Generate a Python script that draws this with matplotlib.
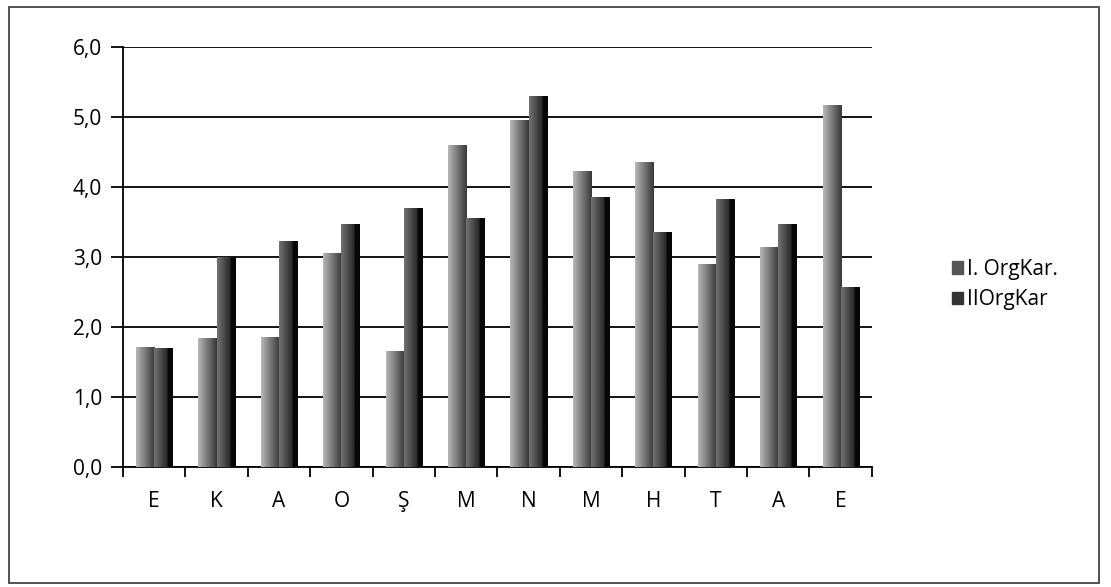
import numpy as np
import matplotlib
matplotlib.use("Agg")
import matplotlib.pyplot as plt
from matplotlib.patches import Rectangle

# monthly values
months = ["E", "K", "A", "O", "Ş", "M", "N", "M", "H", "T", "A", "E"]
org1 = [1.72, 1.84, 1.86, 3.05, 1.66, 4.60, 4.96, 4.23, 4.35, 2.90, 3.14, 5.17]
org2 = [1.70, 3.00, 3.22, 3.47, 3.70, 3.55, 5.29, 3.86, 3.36, 3.83, 3.47, 2.57]
labels = ["I. OrgKar.", "IIOrgKar"]
yticks = [0, 1, 2, 3, 4, 5, 6]

plt.rcParams["font.family"] = ["Open Sans", "DejaVu Sans"]

fig = plt.figure(figsize=(11.11, 5.87), dpi=100)
ax = fig.add_axes([0.1107, 0.2044, 0.674, 0.716])

x = np.arange(len(months))
w = 0.29

# horizontal gray gradients imitating the shaded bars
grad1 = np.linspace(0.72, 0.22, 64).reshape(1, -1)
grad2 = np.concatenate([np.linspace(0.45, 0.15, 46), np.full(18, 0.03)]).reshape(1, -1)


def shaded_bars(xs, vals, grad):
    bars = ax.bar(xs, vals, w, color="none", edgecolor="none", zorder=3)
    for b in bars:
        x0, y0 = b.get_x(), b.get_y()
        im = ax.imshow(grad, cmap="gray", vmin=0, vmax=1, aspect="auto",
                       extent=[x0, x0 + b.get_width(), y0, y0 + b.get_height()],
                       zorder=3, interpolation="bilinear")
        im.set_clip_path(b)
    return bars


shaded_bars(x - w / 2, org1, grad1)
shaded_bars(x + w / 2, org2, grad2)

ax.set_xlim(-0.5, len(months) - 0.5)
ax.set_ylim(0, 6)
ax.set_yticks(yticks)
ax.set_yticklabels([f"{v:.1f}".replace(".", ",") for v in yticks], fontsize=15)
ax.yaxis.grid(True, color="black", linewidth=1.3)
ax.set_axisbelow(True)

ax.set_xticks(x)
ax.set_xticklabels(months, fontsize=15)
ax.tick_params(axis="x", length=0, pad=17)
ax.set_xticks(np.arange(len(months) + 1) - 0.5, minor=True)
ax.tick_params(axis="x", which="minor", length=7, width=1.3, direction="out")
ax.tick_params(axis="y", length=9, width=1.3, pad=6)

for s in ["top", "right"]:
    ax.spines[s].set_visible(False)
ax.spines["left"].set_linewidth(1.3)
ax.spines["bottom"].set_linewidth(1.3)

# legend
handles = [Rectangle((0, 0), 1, 1, color=c) for c in ["#555555", "#333333"]]
fig.legend(handles, labels, loc="center left", bbox_to_anchor=(0.84, 0.515),
           frameon=False, fontsize=15, handlelength=0.55, handleheight=0.55,
           handletextpad=0.15, labelspacing=0.45)

# outer chart border
fig.add_artist(Rectangle((0.008, 0.007), 0.981, 0.981, transform=fig.transFigure,
                         fill=False, edgecolor="#444444", linewidth=1.3))

fig.savefig("out.png", dpi=100)
